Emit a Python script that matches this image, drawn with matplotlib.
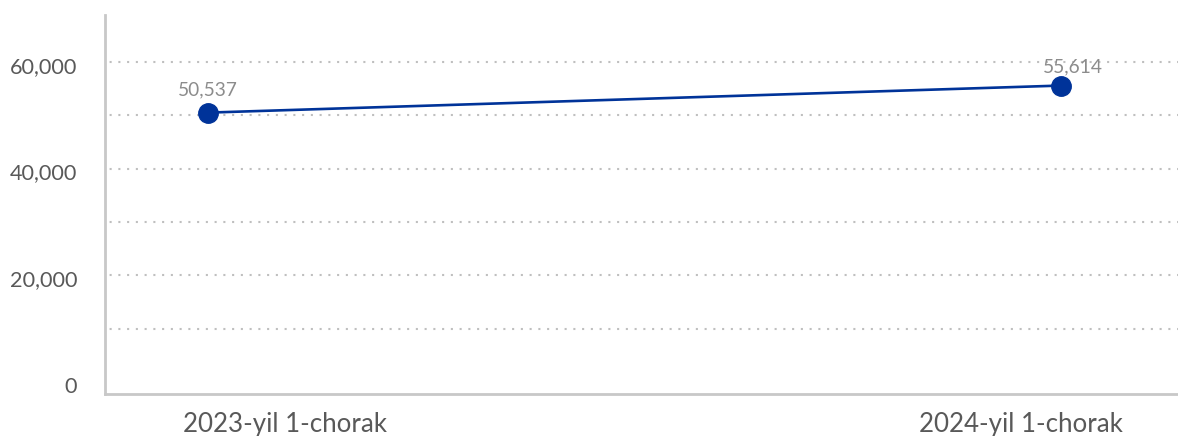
import matplotlib
matplotlib.use("Agg")
import matplotlib.pyplot as plt
import matplotlib.transforms as mtransforms

categories = ["2023-yil 1-chorak", "2024-yil 1-chorak"]
values = [50537, 55614]
yticks = [0, 20000, 40000, 60000]
label_shift = [0.09, -0.047]  # horizontal label offsets (category units)

plt.rcParams['font.family'] = ['Lato', 'DejaVu Sans']

fig = plt.figure(figsize=(11.78, 4.36), dpi=100)
ax = fig.add_axes([105/1178, 42/436, 1 - 105/1178, (394-15)/436])

x = list(range(len(categories)))
ax.plot(x, values, color='#003399', lw=1.9, marker='o', ms=14,
        markerfacecolor='#003399', markeredgecolor='#003399', zorder=3)

offsets = [(0, 16.5), (8.6, 13.7)]
for xi, v, off in zip(x, values, offsets):
    ax.annotate(f"{v:,}", (xi, v), xytext=off, textcoords='offset points',
                ha='center', va='center', fontsize=13.8, color='#8c8c8c')

ax.set_xlim(-0.121, 1.137)
ax.set_ylim(-2250, 68850)

for g in range(10000, 70000, 10000):
    ax.axhline(g, color='#bfbfbf', lw=1.5, ls=(2, (1, 3.2)), zorder=1)

ax.set_yticks(yticks)
ax.set_yticklabels([f"{t:,}" for t in yticks], fontsize=15.6, color='#595959')
ax.set_xticks([xi + s for xi, s in zip(x, label_shift)])
ax.set_xticklabels(categories, fontsize=18.6, color='#595959')
ax.tick_params(axis='both', length=0)
ax.tick_params(axis='y', pad=20)
ax.tick_params(axis='x', pad=13)

off = mtransforms.ScaledTranslation(0, -2.5/100, fig.dpi_scale_trans)
for lab in ax.get_yticklabels():
    lab.set_transform(lab.get_transform() + off)

for s in ['top', 'right']:
    ax.spines[s].set_visible(False)
for s in ['left', 'bottom']:
    ax.spines[s].set_color('#c8c8c8')
    ax.spines[s].set_linewidth(2)

fig.savefig('out.png', dpi=100)
